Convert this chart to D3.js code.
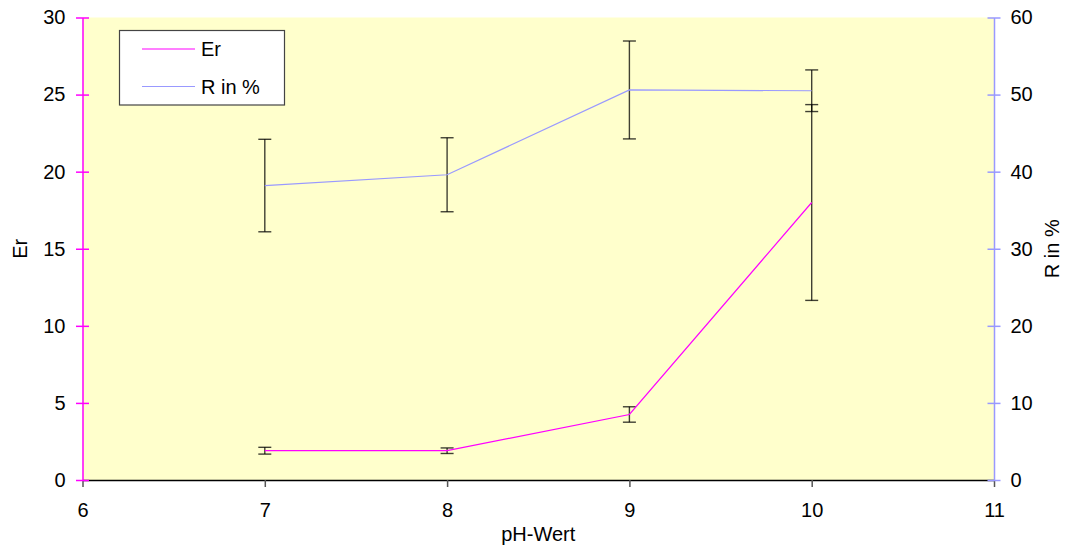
<!DOCTYPE html>
<html>
<head>
<meta charset="utf-8">
<script src="https://cdn.jsdelivr.net/npm/d3@7"></script>
<style>
  html, body { margin: 0; padding: 0; background: #fff; }
  svg { display: block; font-family: "Liberation Sans", Arial, sans-serif; }
</style>
</head>
<body>
<svg id="chart" width="1066" height="545"></svg>
<script>
// pH values and measured series
const phValues = [7, 8, 9, 10];
const erValues = [1.9, 1.9, 4.25, 18.0];
const erErrors = [0.22, 0.18, 0.5, 6.35];
const rValues = [38.2, 39.6, 50.6, 50.5];
const rErrors = [6.0, 4.8, 6.35, 2.7];

const xTicks = [6, 7, 8, 9, 10, 11];
const erTicks = [0, 5, 10, 15, 20, 25, 30];
const rTicks = [0, 10, 20, 30, 40, 50, 60];

const svg = d3.select("#chart");
const plotLeft = 82.5, plotRight = 994, plotTop = 17.5, plotBottom = 480;

const x = d3.scaleLinear().domain([6, 11]).range([plotLeft, plotRight]);
const yEr = d3.scaleLinear().domain([0, 30]).range([plotBottom, plotTop]);
const yR = d3.scaleLinear().domain([0, 60]).range([plotBottom, plotTop]);

// plot area
svg.append("rect")
  .attr("x", plotLeft).attr("y", plotTop)
  .attr("width", plotRight - plotLeft).attr("height", plotBottom - plotTop)
  .attr("fill", "#FFFFCC");

const fontSize = 20;
const fontFamily = "Liberation Sans, Arial, sans-serif";

// x axis
const xAxis = svg.append("g")
  .attr("transform", `translate(0,${plotBottom})`)
  .call(d3.axisBottom(x).tickValues(xTicks).tickFormat(d3.format("d"))
    .tickSize(7).tickPadding(16).tickSizeOuter(0));
xAxis.select(".domain").attr("stroke", "#000").attr("stroke-width", 1.5);
xAxis.selectAll(".tick line").attr("stroke", "#555").attr("stroke-width", 1.5);
xAxis.selectAll(".tick text").attr("font-size", fontSize).attr("fill", "#000")
  .attr("font-family", fontFamily);

// left axis (Er)
const magenta = "#FF00FF";
const leftAxis = svg.append("g")
  .attr("transform", `translate(${plotLeft},0)`)
  .call(d3.axisLeft(yEr).tickValues(erTicks).tickFormat(d3.format("d"))
    .tickSize(6.5).tickPadding(11).tickSizeOuter(0));
leftAxis.select(".domain").attr("stroke", magenta).attr("stroke-width", 1.5);
leftAxis.selectAll(".tick line").attr("stroke", magenta).attr("stroke-width", 1.5).attr("x2", 6.5).attr("x1", -6.5);
leftAxis.selectAll(".tick text").attr("font-size", fontSize).attr("fill", "#000")
  .attr("font-family", fontFamily).attr("x", -17);

// right axis (R in %)
const periwinkle = "#9999FF";
const rightAxis = svg.append("g")
  .attr("transform", `translate(${plotRight},0)`)
  .call(d3.axisRight(yR).tickValues(rTicks).tickFormat(d3.format("d"))
    .tickSize(6.5).tickPadding(11).tickSizeOuter(0));
rightAxis.select(".domain").attr("stroke", periwinkle).attr("stroke-width", 1.5);
rightAxis.selectAll(".tick line").attr("stroke", periwinkle).attr("stroke-width", 1.5).attr("x1", -6.5).attr("x2", 6.5);
rightAxis.selectAll(".tick text").attr("font-size", fontSize).attr("fill", "#000")
  .attr("font-family", fontFamily).attr("x", 16.5);

// axis titles
svg.append("text")
  .attr("transform", `translate(27,${(plotTop + plotBottom) / 2}) rotate(-90)`)
  .attr("text-anchor", "middle")
  .attr("font-size", fontSize).text("Er");
svg.append("text")
  .attr("transform", `translate(1059,${(plotTop + plotBottom) / 2}) rotate(-90)`)
  .attr("text-anchor", "middle")
  .attr("font-size", fontSize).text("R in %");
svg.append("text")
  .attr("x", (plotLeft + plotRight) / 2).attr("y", 541)
  .attr("text-anchor", "middle")
  .attr("font-size", fontSize).text("pH-Wert");

// error bars
function errorBars(values, errors, y) {
  const g = svg.append("g").attr("stroke", "#000").attr("stroke-width", 1.4).attr("stroke-opacity", 0.75);
  phValues.forEach((p, i) => {
    const cx = x(p);
    const y1 = y(values[i] + errors[i]);
    const y2 = y(values[i] - errors[i]);
    g.append("line").attr("x1", cx).attr("x2", cx).attr("y1", y1).attr("y2", y2);
    g.append("line").attr("x1", cx - 6.5).attr("x2", cx + 6.5).attr("y1", y1).attr("y2", y1);
    g.append("line").attr("x1", cx - 6.5).attr("x2", cx + 6.5).attr("y1", y2).attr("y2", y2);
  });
}
errorBars(erValues, erErrors, yEr);
errorBars(rValues, rErrors, yR);

// series lines
const erLine = d3.line().x((d, i) => x(phValues[i])).y(d => yEr(d));
const rLine = d3.line().x((d, i) => x(phValues[i])).y(d => yR(d));
svg.append("path").datum(erValues).attr("d", erLine)
  .attr("fill", "none").attr("stroke", magenta).attr("stroke-width", 1.2);
svg.append("path").datum(rValues).attr("d", rLine)
  .attr("fill", "none").attr("stroke", periwinkle).attr("stroke-width", 1.2);

// legend
const legend = svg.append("g");
legend.append("rect")
  .attr("x", 119.5).attr("y", 30.5).attr("width", 165).attr("height", 74.5)
  .attr("fill", "#fff").attr("stroke", "#444").attr("stroke-width", 1.2);
const legendItems = [
  { label: "Er", color: magenta, y: 49 },
  { label: "R in %", color: periwinkle, y: 86.5 }
];
legendItems.forEach(item => {
  legend.append("line").attr("x1", 142).attr("x2", 195)
    .attr("y1", item.y).attr("y2", item.y)
    .attr("stroke", item.color).attr("stroke-width", 1.2);
  legend.append("text").attr("x", 201).attr("y", item.y + 7)
    .attr("font-size", fontSize).text(item.label);
});
</script>
</body>
</html>
